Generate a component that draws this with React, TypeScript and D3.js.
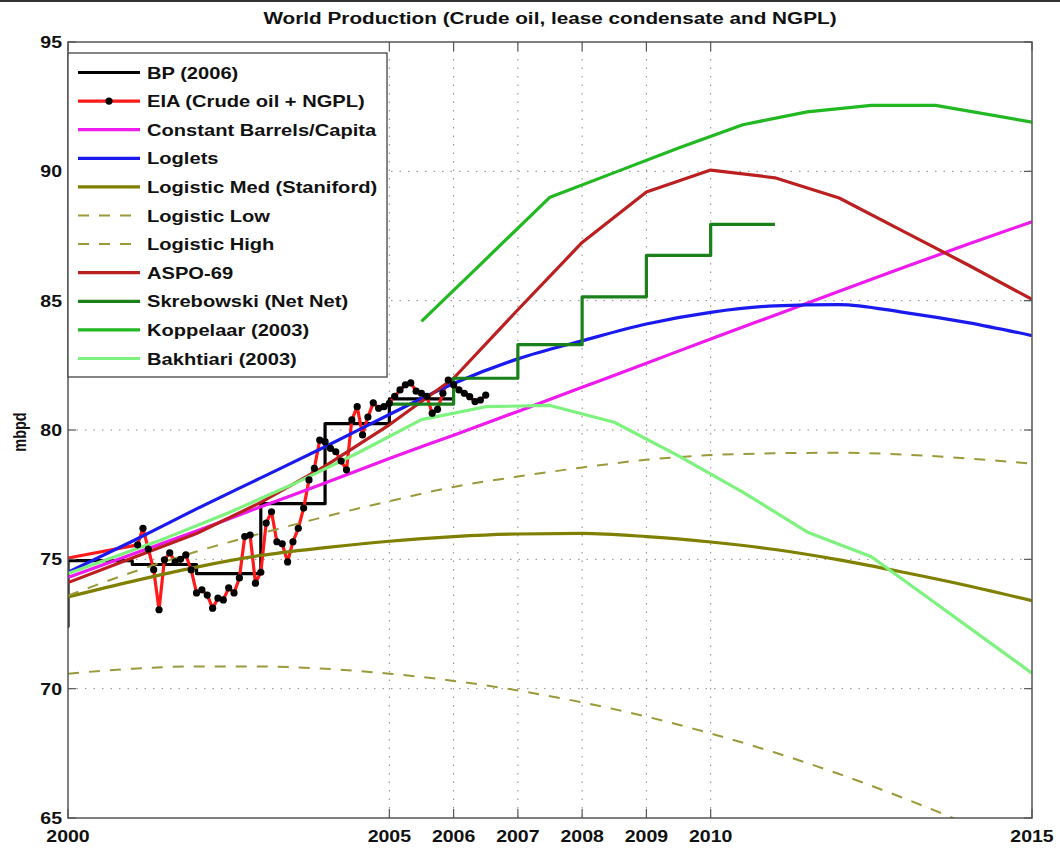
import React from 'react';
import * as d3 from 'd3';

const W = 1060;
const H = 850;
const PL = 68, PR = 1032, PT = 42, PB = 818;

const titleText = 'World Production (Crude oil, lease condensate and NGPL)';
const yLabel = 'mbpd';
const xTicks = [2000, 2005, 2006, 2007, 2008, 2009, 2010, 2015];
const yTicks = [65, 70, 75, 80, 85, 90, 95];
const xGrid = [2005, 2006, 2007, 2008, 2009, 2010];
const yGrid = [70, 75, 80, 85, 90];

const annualYears = [2000, 2001, 2002, 2003, 2004, 2005, 2006, 2007, 2008, 2009, 2010, 2011, 2012, 2013, 2014, 2015];

const bpYears = [1999, 2000, 2001, 2002, 2003, 2004, 2005, 2006];
const bpValues = [72.4, 74.95, 74.8, 74.45, 77.15, 80.25, 81.2, 81.2];

const eiaFirstYear = 2000;
const eiaFirstValue = 75.05;
const eiaMonthlyStart = 2001 + 1 / 12;
const eiaMonthly = [
  75.56, 76.2, 75.4, 74.6, 73.05, 74.98, 75.25, 74.9, 75.0, 75.17, 74.59,
  73.7, 73.82, 73.62, 73.11, 73.5, 73.43, 73.9, 73.7, 74.28, 75.88, 75.94, 74.08,
  74.5, 76.4, 76.84, 75.68, 75.6, 74.9, 75.68, 76.2, 76.98, 78.07, 78.52, 79.61,
  79.55, 79.29, 79.16, 78.8, 78.46, 80.39, 80.9, 79.81, 80.5, 81.05, 80.84, 80.9,
  81.03, 81.3, 81.55, 81.75, 81.82, 81.5, 81.42, 81.3, 80.65, 80.8, 81.42, 81.93,
  81.75, 81.55, 81.42, 81.29, 81.1, 81.16, 81.35,
];

const constantBarrels = [74.3, 75.2, 76.1, 77.03, 77.95, 78.9, 79.8, 80.72, 81.65, 82.58, 83.52, 84.44, 85.36, 86.28, 87.18, 88.05];
const loglets = [74.5, 75.7, 76.95, 78.15, 79.35, 80.6, 81.8, 82.75, 83.45, 84.1, 84.55, 84.8, 84.85, 84.55, 84.15, 83.65];
const logisticMed = [73.55, 74.15, 74.7, 75.15, 75.45, 75.7, 75.88, 75.98, 76.0, 75.88, 75.67, 75.38, 74.98, 74.5, 73.98, 73.4];
const logisticLow = [70.58, 70.77, 70.86, 70.86, 70.77, 70.58, 70.3, 69.93, 69.47, 68.92, 68.27, 67.53, 66.7, 65.77, 64.76, 63.65];
const logisticHigh = [73.6, 74.5, 75.3, 76.0, 76.65, 77.25, 77.8, 78.2, 78.55, 78.85, 79.03, 79.1, 79.12, 79.05, 78.9, 78.7];
const aspo69 = [74.1, 75.05, 76.0, 77.2, 78.6, 80.2, 82.0, 84.65, 87.25, 89.2, 90.05, 89.75, 88.97, 87.68, 86.39, 85.05];

const skrebowskiYears = [2005, 2006, 2007, 2008, 2009, 2010, 2011];
const skrebowskiValues = [81.0, 82.0, 83.3, 85.15, 86.75, 87.95, 87.95];

const koppelaarYears = [2005.5, 2006.5, 2007.5, 2008.5, 2009.5, 2010.5, 2011.5, 2012.5, 2013.5, 2015];
const koppelaarValues = [84.2, 86.6, 89.0, 89.95, 90.9, 91.8, 92.3, 92.55, 92.55, 91.9];

const bakhtiariYears = [2000, 2000.5, 2001.5, 2002.5, 2003.5, 2004.5, 2005.5, 2006.5, 2007.5, 2008.5, 2009.5, 2010.5, 2011.5, 2012.5, 2013.5, 2014.5, 2015];
const bakhtiariValues = [74.45, 74.9, 75.8, 76.8, 77.9, 79.1, 80.4, 80.9, 80.95, 80.3, 79.0, 77.6, 76.06, 75.1, 73.3, 71.5, 70.6];

const legendLabels = [
  'BP (2006)',
  'EIA (Crude oil + NGPL)',
  'Constant Barrels/Capita',
  'Loglets',
  'Logistic Med (Staniford)',
  'Logistic Low',
  'Logistic High',
  'ASPO-69',
  'Skrebowski (Net Net)',
  'Koppelaar (2003)',
  'Bakhtiari (2003)',
];

const C_BP = '#000000';
const C_EIA = '#ff1a1a';
const C_CONST = '#ee1aee';
const C_LOGLETS = '#1a1aee';
const C_MED = '#7f7f00';
const C_DASH = '#9a9a3a';
const C_ASPO = '#bb1f1f';
const C_SKREB = '#1a801a';
const C_KOPP = '#22b822';
const C_BAKH = '#7ef27e';

const FONT = '"Liberation Sans", Arial, Helvetica, sans-serif';
const SX = 1.22;

type P = [number, number];

function zip(xs: number[], ys: number[]): P[] {
  return xs.map((x, i) => [x, ys[i]] as P);
}

function SText(props: { x: number; y: number; size: number; anchor?: string; rotate?: number; children: React.ReactNode; fill?: string }) {
  const { x, y, size, anchor = 'start', rotate = 0, children, fill = '#111' } = props;
  return (
    <g transform={`translate(${x},${y}) scale(${SX},1) rotate(${rotate})`}>
      <text fontFamily={FONT} fontWeight="bold" fontSize={size} textAnchor={anchor} fill={fill}>
        {children}
      </text>
    </g>
  );
}

export default function App() {
  const x = d3.scaleLinear().domain([2000, 2015]).range([PL, PR]);
  const y = d3.scaleLinear().domain([65, 95]).range([PB, PT]);

  const smooth = d3.line<P>().x(d => x(d[0])).y(d => y(d[1])).curve(d3.curveMonotoneX);
  const lin = d3.line<P>().x(d => x(d[0])).y(d => y(d[1]));
  const step = d3.line<P>().x(d => x(d[0])).y(d => y(d[1])).curve(d3.curveStepAfter);

  const eiaData: P[] = [[eiaFirstYear, eiaFirstValue] as P].concat(
    eiaMonthly.map((v, i) => [eiaMonthlyStart + i / 12, v] as P)
  );

  const lw = 3.2;

  const series = [
    { d: step(zip(bpYears, bpValues)), c: C_BP, w: lw, dash: undefined as string | undefined },
    { d: lin(eiaData), c: C_EIA, w: lw, dash: undefined },
    { d: smooth(zip(annualYears, constantBarrels)), c: C_CONST, w: lw, dash: undefined },
    { d: smooth(zip(annualYears, loglets)), c: C_LOGLETS, w: lw, dash: undefined },
    { d: smooth(zip(annualYears, logisticMed)), c: C_MED, w: lw, dash: undefined },
    { d: smooth(zip(annualYears, logisticLow)), c: C_DASH, w: 2, dash: '11,10' },
    { d: smooth(zip(annualYears, logisticHigh)), c: C_DASH, w: 2, dash: '11,10' },
    { d: lin(zip(annualYears, aspo69)), c: C_ASPO, w: lw, dash: undefined },
    { d: step(zip(skrebowskiYears, skrebowskiValues)), c: C_SKREB, w: lw, dash: undefined },
    { d: lin(zip(koppelaarYears, koppelaarValues)), c: C_KOPP, w: lw, dash: undefined },
    { d: lin(zip(bakhtiariYears, bakhtiariValues)), c: C_BAKH, w: lw, dash: undefined },
  ];

  const legendColors = [C_BP, C_EIA, C_CONST, C_LOGLETS, C_MED, C_DASH, C_DASH, C_ASPO, C_SKREB, C_KOPP, C_BAKH];
  const legendDash = [false, false, false, false, false, true, true, false, false, false, false];

  const LX = 68, LY = 53, LW = 319, LH = 324;
  const rowY0 = 72.5, rowStep = 28.6;

  return (
    <svg width={W} height={H} style={{ position: 'absolute', left: 0, top: 0, background: '#fff' }}>
      <rect x={0} y={0} width={W} height={H} fill="#fff" />
      <rect x={0} y={0} width={W} height={2} fill="#333" />
      <defs>
        <clipPath id="plotclip">
          <rect x={PL} y={PT} width={PR - PL} height={PB - PT} />
        </clipPath>
      </defs>

      <SText x={(PL + PR) / 2} y={24} size={17} anchor="middle">{titleText}</SText>

      {/* grid */}
      {xGrid.map(t => (
        <line key={'gx' + t} x1={x(t)} x2={x(t)} y1={PT} y2={PB} stroke="#8a8a8a" strokeWidth={1} strokeDasharray="1.5,7" />
      ))}
      {yGrid.map(t => (
        <line key={'gy' + t} x1={PL} x2={PR} y1={y(t)} y2={y(t)} stroke="#8a8a8a" strokeWidth={1} strokeDasharray="1.5,7" />
      ))}

      {/* series */}
      <g clipPath="url(#plotclip)">
        {series.map((s, i) => (
          <path key={i} d={s.d || ''} fill="none" stroke={s.c} strokeWidth={s.w} strokeDasharray={s.dash} strokeLinejoin="round" />
        ))}
        {eiaData.slice(1).map((d, i) => (
          <circle key={'m' + i} cx={x(d[0])} cy={y(d[1])} r={3.6} fill="#000" />
        ))}
      </g>

      {/* axes box */}
      <rect x={PL} y={PT} width={PR - PL} height={PB - PT} fill="none" stroke="#555" strokeWidth={1.5} />
      {xTicks.map(t => (
        <g key={'tx' + t}>
          <line x1={x(t)} x2={x(t)} y1={PB} y2={PB - 9} stroke="#555" strokeWidth={1.2} />
          <line x1={x(t)} x2={x(t)} y1={PT} y2={PT + 9} stroke="#555" strokeWidth={1.2} />
          <SText x={x(t)} y={PB + 24} size={16} anchor="middle">{String(t)}</SText>
        </g>
      ))}
      {yTicks.map(t => (
        <g key={'ty' + t}>
          <line x1={PL} x2={PL + 8} y1={y(t)} y2={y(t)} stroke="#555" strokeWidth={1.2} />
          <line x1={PR} x2={PR - 8} y1={y(t)} y2={y(t)} stroke="#555" strokeWidth={1.2} />
          <SText x={PL - 6} y={y(t) + 6} size={16} anchor="end">{String(t)}</SText>
        </g>
      ))}

      <SText x={26} y={(PT + PB) / 2 + 2} size={14.5} anchor="middle" rotate={-90}>{yLabel}</SText>

      {/* legend */}
      <rect x={LX} y={LY} width={LW} height={LH} fill="#fff" stroke="#444" strokeWidth={1.3} />
      {legendLabels.map((lab, i) => {
        const cy = rowY0 + i * rowStep;
        return (
          <g key={'lg' + i}>
            <line x1={78} x2={140} y1={cy} y2={cy} stroke={legendColors[i]} strokeWidth={legendDash[i] ? 2 : 3.2}
              strokeDasharray={legendDash[i] ? '11,10' : undefined} />
            {i === 1 && <circle cx={109} cy={cy} r={3.6} fill="#000" />}
            <SText x={147} y={cy + 6} size={16.5}>{lab}</SText>
          </g>
        );
      })}
    </svg>
  );
}
